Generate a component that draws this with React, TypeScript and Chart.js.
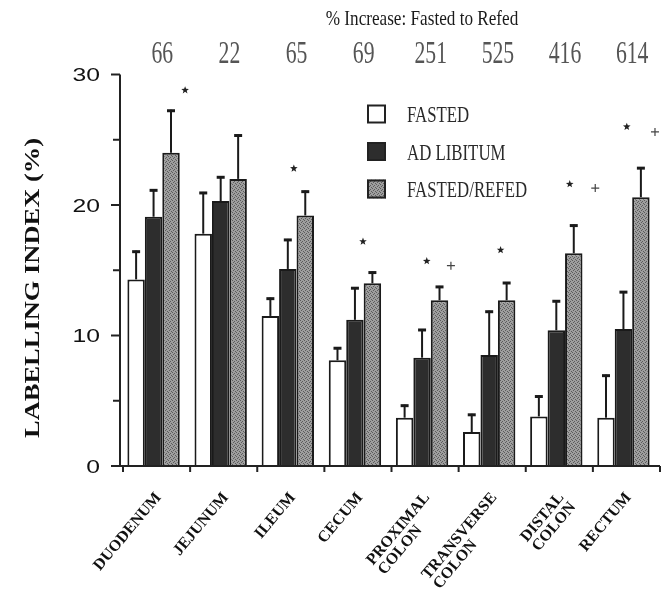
import React, { useEffect, useRef } from "react";
import { Chart, registerables } from "chart.js";

Chart.register(...registerables);

const categories: string[][] = [
  ["DUODENUM"],
  ["JEJUNUM"],
  ["ILEUM"],
  ["CECUM"],
  ["PROXIMAL", "COLON"],
  ["TRANSVERSE", "COLON"],
  ["DISTAL", "COLON"],
  ["RECTUM"],
];

const seriesNames = ["FASTED", "AD LIBITUM", "FASTED/REFED"];

const fasted = [14.3, 17.8, 11.5, 8.1, 3.7, 2.6, 3.8, 3.7];
const fastedErr = [2.2, 3.2, 1.4, 1.0, 1.0, 1.4, 1.6, 3.3];
const adLibitum = [19.1, 20.3, 15.1, 11.2, 8.3, 8.5, 10.4, 10.5];
const adLibitumErr = [2.1, 1.9, 2.3, 2.5, 2.2, 3.4, 2.3, 2.9];
const refed = [24.0, 22.0, 19.2, 14.0, 12.7, 12.7, 16.3, 20.6];
const refedErr = [3.3, 3.4, 1.9, 0.9, 1.1, 1.4, 2.2, 2.3];

const pctIncrease = ["66", "22", "65", "69", "251", "525", "416", "614"];

const yTicks = [0, 5, 10, 15, 20, 25, 30];
const yTickLabels = ["0", "", "10", "", "20", "", "30"];

// significance markers: category index and level (labelling index units)
const starCats = [0, 2, 3, 4, 5, 6, 7];
const starLevels = [28.8, 22.8, 17.2, 15.7, 16.55, 21.6, 26.0];
const starShift = [0.47, 0.09, 0.12, 0.07, 0.17, 0.2, 0.05];
const plusCats = [4, 6, 7];
const plusLevels = [15.35, 21.3, 25.6];
const plusShift = [0.43, 0.58, 0.47];

const SERIF = '"Liberation Serif", "Times New Roman", serif';
const SANS = '"Liberation Sans", Arial, sans-serif';

function makePattern(): CanvasPattern | string {
  const c = document.createElement("canvas");
  c.width = 4;
  c.height = 4;
  const g = c.getContext("2d");
  if (!g) return "#8c8c8c";
  g.fillStyle = "#9e9e9e";
  g.fillRect(0, 0, 4, 4);
  g.fillStyle = "#5c5c5c";
  g.fillRect(0, 0, 1, 1);
  g.fillRect(2, 1, 1, 1);
  g.fillRect(1, 2, 1, 1);
  g.fillRect(3, 3, 1, 1);
  const p = g.createPattern(c, "repeat");
  return p || "#8c8c8c";
}

function scaledText(
  ctx: CanvasRenderingContext2D,
  text: string,
  x: number,
  y: number,
  font: string,
  xs: number,
  align: CanvasTextAlign,
  color: string
) {
  ctx.save();
  ctx.translate(x, y);
  ctx.scale(xs, 1);
  ctx.font = font;
  ctx.textAlign = align;
  ctx.textBaseline = "alphabetic";
  ctx.fillStyle = color;
  ctx.fillText(text, 0, 0);
  ctx.restore();
}

function drawStar(ctx: CanvasRenderingContext2D, cx: number, cy: number, r: number) {
  ctx.beginPath();
  for (let k = 0; k < 10; k++) {
    const rad = k % 2 === 0 ? r : r * 0.42;
    const a = -Math.PI / 2 + (k * Math.PI) / 5;
    const px = cx + rad * Math.cos(a);
    const py = cy + rad * Math.sin(a);
    if (k === 0) ctx.moveTo(px, py);
    else ctx.lineTo(px, py);
  }
  ctx.closePath();
  ctx.fillStyle = "#222";
  ctx.fill();
}

export default function App() {
  const ref = useRef<HTMLCanvasElement>(null);

  useEffect(() => {
    if (!ref.current) return;
    const pattern = makePattern();
    const errs = [fastedErr, adLibitumErr, refedErr];

    const overlay = {
      id: "overlay",
      afterDatasetsDraw(chart: any) {
        const { ctx, chartArea } = chart;
        const xs = chart.scales.x;
        const ys = chart.scales.y;
        const n = categories.length;
        const catW = (chartArea.right - chartArea.left) / n;
        const axisY = ys.getPixelForValue(0);

        ctx.save();
        // error bars
        chart.data.datasets.forEach((ds: any, di: number) => {
          const meta = chart.getDatasetMeta(di);
          meta.data.forEach((bar: any, i: number) => {
            const v = ds.data[i];
            const top = ys.getPixelForValue(v + errs[di][i]);
            const bx = bar.x;
            ctx.strokeStyle = "#1a1a1a";
            ctx.lineWidth = 2;
            ctx.beginPath();
            ctx.moveTo(bx, bar.y);
            ctx.lineTo(bx, top);
            ctx.stroke();
            ctx.lineWidth = 3;
            ctx.beginPath();
            ctx.moveTo(bx - 4, top + 1);
            ctx.lineTo(bx + 4, top + 1);
            ctx.stroke();
          });
        });

        // axes
        ctx.strokeStyle = "#222";
        ctx.lineWidth = 2;
        ctx.beginPath();
        ctx.moveTo(chartArea.left, ys.getPixelForValue(30));
        ctx.lineTo(chartArea.left, axisY);
        ctx.lineTo(chartArea.right + 3, axisY);
        ctx.stroke();

        // x ticks at category boundaries
        for (let i = 0; i <= n; i++) {
          const tx = chartArea.left + catW * i + 3;
          ctx.beginPath();
          ctx.moveTo(tx, axisY);
          ctx.lineTo(tx, axisY + 6);
          ctx.stroke();
        }

        // y ticks & labels
        yTicks.forEach((v, k) => {
          const ty = ys.getPixelForValue(v);
          const len = yTickLabels[k] ? 9 : 7;
          ctx.beginPath();
          ctx.moveTo(chartArea.left - len, ty);
          ctx.lineTo(chartArea.left, ty);
          ctx.stroke();
          if (yTickLabels[k]) {
            scaledText(ctx, yTickLabels[k], 100, ty + 6.8, `19px ${SANS}`, 1.3, "right", "#111");
          }
        });

        // y axis title
        ctx.save();
        ctx.translate(38.5, 288);
        ctx.rotate(-Math.PI / 2);
        ctx.scale(1.26, 1);
        ctx.font = `bold 21px ${SERIF}`;
        ctx.textAlign = "center";
        ctx.textBaseline = "alphabetic";
        ctx.fillStyle = "#111";
        ctx.fillText("LABELLING INDEX (%)", 0, 0);
        ctx.restore();

        // x labels
        categories.forEach((lines, i) => {
          const cx = xs.getPixelForValue(i) + 5;
          ctx.save();
          ctx.translate(cx, axisY + 29);
          ctx.rotate((-50 * Math.PI) / 180);
          ctx.font = `bold 16px ${SERIF}`;
          ctx.fillStyle = "#111";
          ctx.textBaseline = "middle";
          ctx.textAlign = "right";
          ctx.fillText(lines[0], 0, 0);
          const w0 = ctx.measureText(lines[0]).width;
          ctx.textAlign = "left";
          for (let k = 1; k < lines.length; k++) {
            ctx.fillText(lines[k], -w0, 15 * k);
          }
          ctx.restore();
        });

        // title & percent increase row
        scaledText(ctx, "% Increase: Fasted to Refed", 422, 25, `22px ${SERIF}`, 0.78, "center", "#1a1a1a");
        pctIncrease.forEach((t, i) => {
          const px = xs.getPixelForValue(i) + catW * 0.13;
          scaledText(ctx, t, px, 62.5, `31px ${SERIF}`, 0.7, "center", "#555");
        });

        // significance markers
        starCats.forEach((c, k) => {
          const px = xs.getPixelForValue(c) + catW * starShift[k];
          drawStar(ctx, px, ys.getPixelForValue(starLevels[k]), 4);
        });
        ctx.strokeStyle = "#444";
        ctx.lineWidth = 1.2;
        plusCats.forEach((c, k) => {
          const px = xs.getPixelForValue(c) + catW * plusShift[k];
          const py = ys.getPixelForValue(plusLevels[k]);
          ctx.beginPath();
          ctx.moveTo(px - 4, py);
          ctx.lineTo(px + 4, py);
          ctx.moveTo(px, py - 4);
          ctx.lineTo(px, py + 4);
          ctx.stroke();
        });

        // legend
        const fills = ["#ffffff", "#2d2d2d", pattern];
        const rowY = [114, 151.5, 189];
        seriesNames.forEach((name, k) => {
          ctx.fillStyle = fills[k];
          ctx.fillRect(367, rowY[k] - 9.5, 19, 19);
          ctx.strokeStyle = "#222";
          ctx.lineWidth = 2;
          ctx.strokeRect(368, rowY[k] - 8.5, 17, 17);
          scaledText(ctx, name, 407, rowY[k] + 8, `24px ${SERIF}`, 0.7, "left", "#2a2a2a");
        });
        ctx.restore();
      },
    };

    const chart = new Chart(ref.current, {
      type: "bar",
      data: {
        labels: categories,
        datasets: [
          {
            label: seriesNames[0],
            data: fasted,
            backgroundColor: "#ffffff",
            borderColor: "#1a1a1a",
            borderWidth: 2,
          },
          {
            label: seriesNames[1],
            data: adLibitum,
            backgroundColor: "#2d2d2d",
            borderColor: "#1a1a1a",
            borderWidth: 2,
          },
          {
            label: seriesNames[2],
            data: refed,
            backgroundColor: pattern as any,
            borderColor: "#1a1a1a",
            borderWidth: 2,
          },
        ],
      },
      options: {
        responsive: false,
        animation: false,
        devicePixelRatio: 1,
        layout: { padding: { top: 74.5, right: 10, bottom: 0, left: 0 } },
        plugins: {
          legend: { display: false },
          tooltip: { enabled: false },
          title: { display: false },
        },
        datasets: {
          bar: { categoryPercentage: 0.78, barPercentage: 1.0 },
        },
        scales: {
          x: {
            grid: { display: false },
            border: { display: false },
            ticks: { display: false },
            afterFit(s: any) {
              s.height = 126;
            },
          },
          y: {
            min: 0,
            max: 30,
            grid: { display: false },
            border: { display: false },
            ticks: { display: false },
            afterFit(s: any) {
              s.width = 120;
            },
          },
        },
      },
      plugins: [overlay],
    } as any);

    return () => chart.destroy();
  }, []);

  return (
    <div style={{ position: "absolute", left: 0, top: 0, width: 667, height: 592, background: "#fff" }}>
      <canvas ref={ref} width={667} height={592} style={{ display: "block" }} />
    </div>
  );
}
